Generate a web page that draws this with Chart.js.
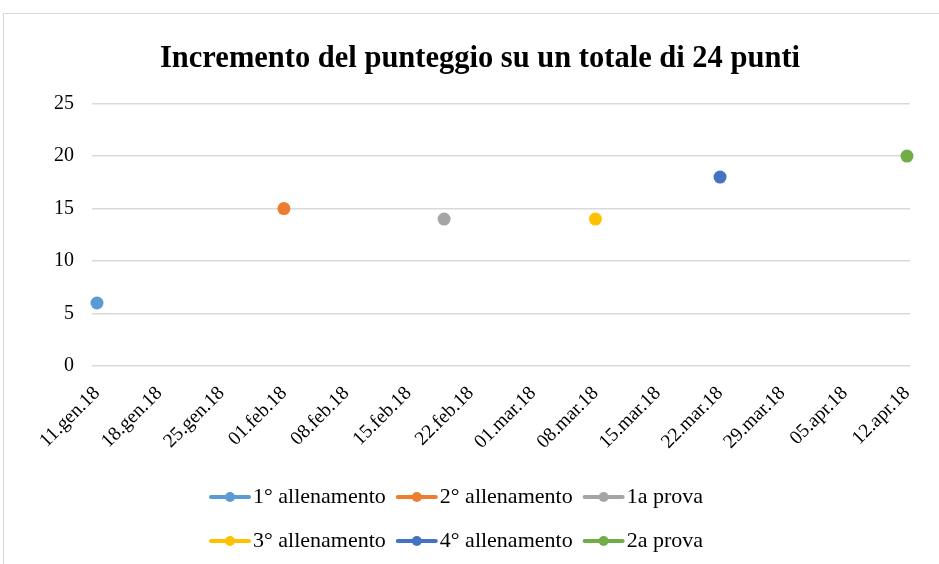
<!DOCTYPE html>
<html>
<head>
<meta charset="utf-8">
<script src="https://cdn.jsdelivr.net/npm/chart.js@4"></script>
<style>
  html, body { margin: 0; padding: 0; background: #fff; overflow: hidden; }
  #wrap {
    position: absolute; left: 3px; top: 13px; width: 952px; height: 560px;
    border-top: 1px solid #d9d9d9; border-left: 1px solid #d9d9d9;
  }
</style>
</head>
<body>
<div id="wrap"><canvas id="chart"></canvas></div>
<script>
// incremento punteggio - one point per session

const seriesNames = ["1° allenamento", "2° allenamento", "1a prova", "3° allenamento", "4° allenamento", "2a prova"];
const seriesColors = ["#5b9bd5", "#ed7d31", "#a5a5a5", "#ffc000", "#4472c4", "#70ad47"];
const seriesDates = ["2018-01-11", "2018-02-01", "2018-02-19", "2018-03-08", "2018-03-22", "2018-04-12"];
const seriesValues = [6, 15, 14, 14, 18, 20];

const tickDates = [
  "2018-01-11", "2018-01-18", "2018-01-25", "2018-02-01", "2018-02-08", "2018-02-15", "2018-02-22",
  "2018-03-01", "2018-03-08", "2018-03-15", "2018-03-22", "2018-03-29", "2018-04-05", "2018-04-12"
];
const tickLabels = [
  "11.gen.18", "18.gen.18", "25.gen.18", "01.feb.18", "08.feb.18", "15.feb.18", "22.feb.18",
  "01.mar.18", "08.mar.18", "15.mar.18", "22.mar.18", "29.mar.18", "05.apr.18", "12.apr.18"
];

const titleText = "Incremento del punteggio su un totale di 24 punti";
const serif = "'Liberation Serif', 'Times New Roman', serif";

// days since first tick
const day0 = Date.parse(tickDates[0]);
const toDay = d => (Date.parse(d) - day0) / 86400000;

const datasets = seriesNames.map((name, i) => ({
  label: name,
  data: [{ x: toDay(seriesDates[i]), y: seriesValues[i] }],
  backgroundColor: seriesColors[i],
  borderColor: seriesColors[i],
  borderWidth: 0,
  pointRadius: 6.5,
  pointHoverRadius: 6.5,
  clip: false
}));

const LEGEND_W = 600;

// legend: 3 items per row, line-with-dot markers drawn over transparent boxes
const legendMarkers = {
  id: "legendMarkers",
  afterInit(chart) {
    const lg = chart.legend;
    if (!lg) return;
    const fit = lg.fit;
    lg.fit = function () {
      this.maxWidth = Math.min(this.maxWidth, LEGEND_W);
      fit.call(this);
    };
  },
  afterLayout(chart) {
    // title sits a bit right of the legend in the original
    const t = chart.titleBlock;
    if (t) { t.left += 23; t.right += 23; }
    const lg = chart.legend;
    if (lg) {
      const cx = 452;
      lg.left = cx - LEGEND_W / 2;
      lg.right = cx + LEGEND_W / 2;
      lg.width = LEGEND_W;
    }
  },
  afterDraw(chart) {
    const lg = chart.legend;
    if (!lg || !lg.legendHitBoxes) return;
    const ctx = chart.ctx;
    lg.legendHitBoxes.forEach((hb, i) => {
      const color = seriesColors[i];
      const y = hb.top + hb.height / 2;
      const x1 = hb.left, x2 = hb.left + 42;
      ctx.save();
      ctx.strokeStyle = color;
      ctx.lineWidth = 4;
      ctx.lineCap = "round";
      ctx.beginPath();
      ctx.moveTo(x1 + 2, y);
      ctx.lineTo(x2 - 2, y);
      ctx.stroke();
      ctx.fillStyle = color;
      ctx.beginPath();
      ctx.arc((x1 + x2) / 2, y, 5, 0, Math.PI * 2);
      ctx.fill();
      ctx.restore();
    });
  }
};

new Chart(document.getElementById("chart"), {
  type: "scatter",
  data: { datasets },
  plugins: [legendMarkers],
  options: {
    responsive: true,
    maintainAspectRatio: false,
    animation: false,
    layout: { padding: { left: 0, right: 46, top: 0, bottom: 6 } },
    plugins: {
      title: {
        display: true,
        text: titleText,
        color: "#000",
        font: { family: serif, size: 30.5, weight: "bold" },
        padding: { top: 27, bottom: 26 }
      },
      legend: {
        position: "bottom",
        labels: {
          color: "#000",
          font: { family: serif, size: 22 },
          boxWidth: 33,
          boxHeight: 34,
          padding: 10,
          generateLabels: chart => chart.data.datasets.map((ds, i) => ({
            text: ds.label,
            fillStyle: "rgba(0,0,0,0)",
            strokeStyle: "rgba(0,0,0,0)",
            lineWidth: 0,
            fontColor: "#000",
            datasetIndex: i,
            hidden: false
          }))
        }
      },
      tooltip: { enabled: false }
    },
    scales: {
      x: {
        type: "linear",
        min: -0.56,
        max: 91.34,
        grid: { display: false },
        border: { display: false },
        afterBuildTicks: s => { s.ticks = tickDates.map(d => ({ value: toDay(d) })); },
        afterFit: s => { s.height = 104; },
        ticks: {
          autoSkip: false,
          minRotation: 45,
          maxRotation: 45,
          padding: 8,
          color: "#000",
          font: { family: serif, size: 19.5 },
          callback: (v, i) => tickLabels[i]
        }
      },
      y: {
        min: 0,
        max: 25,
        grid: { color: "#d9d9d9", lineWidth: 1.5, drawTicks: false },
        border: { display: false },
        afterFit: s => { s.width = 88; },
        ticks: {
          stepSize: 5,
          padding: 18,
          color: "#000",
          font: { family: serif, size: 20 }
        }
      }
    }
  }
});
</script>
</body>
</html>
